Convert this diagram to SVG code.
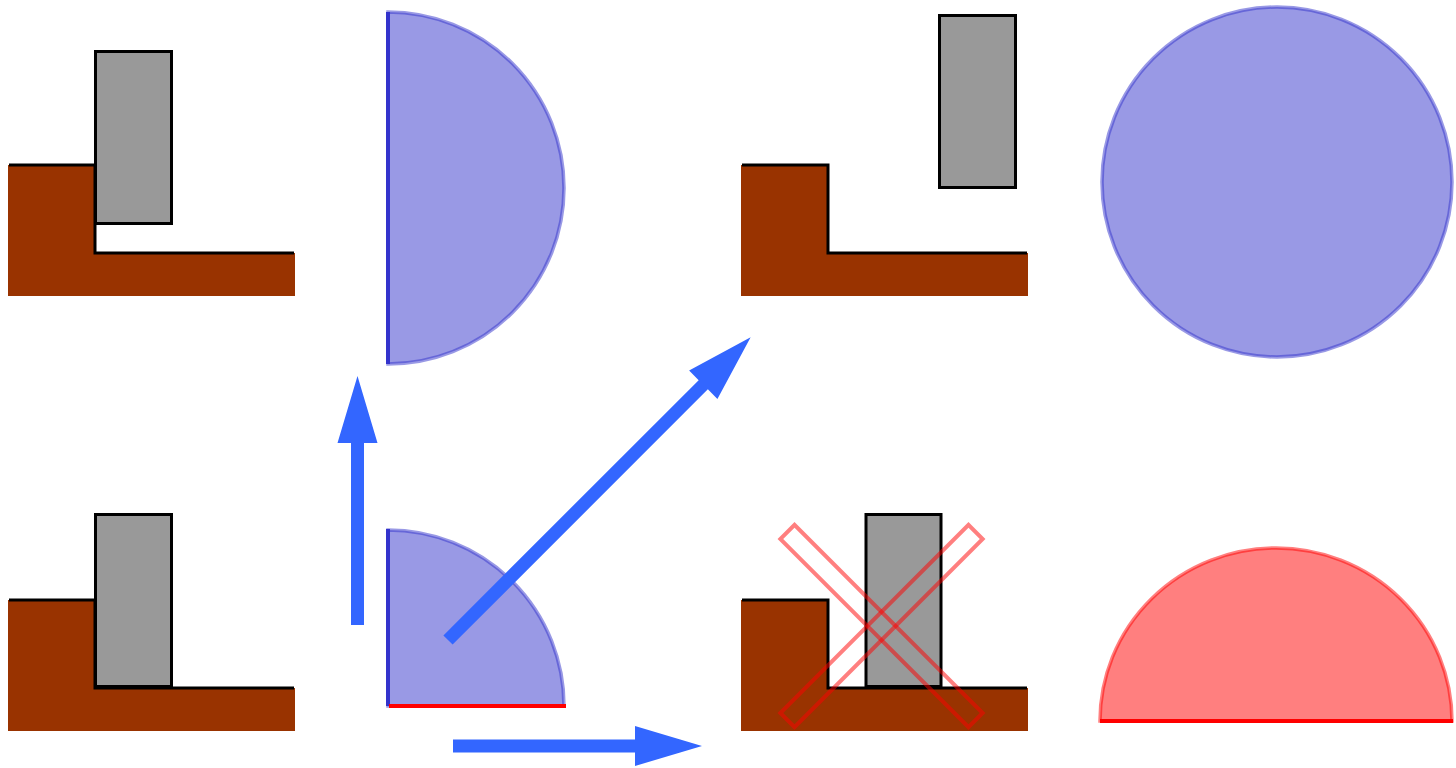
<svg xmlns="http://www.w3.org/2000/svg" width="1456" height="768" viewBox="0 0 1456 768">
<style>
.ground{fill:#993300;stroke:none}
.edge{fill:none;stroke:#000;stroke-width:3;stroke-linejoin:miter}
.block{fill:#999999;stroke:#000;stroke-width:3}
.blue{fill:#3333cc;fill-opacity:0.5;stroke:#3333cc;stroke-opacity:0.5;stroke-width:3.5}
.red{fill:#ff0000;fill-opacity:0.5;stroke:#ff0000;stroke-opacity:0.5;stroke-width:3.5}
.arrow{fill:#3366ff;stroke:none}
.cross{fill:none;stroke:#ff0000;stroke-opacity:0.5;stroke-width:4}
</style>
<defs>
<path id="lshape" d="M8,165 H95 V253 H295 V296 H8 Z"/>
<path id="ledge" d="M9,165 H95 V253 H294"/>
</defs>
<g id="scene-top-left">
<use href="#lshape" class="ground"/>
<use href="#ledge" class="edge"/>
<rect class="block" x="95.5" y="51.5" width="76" height="172"/>
</g>
<g id="half-disc-top">
<path class="blue" d="M388,12 A176,176 0 0 1 388,364 Z"/>
<line x1="388" y1="12" x2="388" y2="364" stroke="#3333cc" stroke-width="4"/>
</g>
<g id="scene-top-right">
<use href="#lshape" class="ground" transform="translate(733,0)"/>
<use href="#ledge" class="edge" transform="translate(733,0)"/>
<rect class="block" x="939.5" y="15.5" width="76" height="172"/>
</g>
<g id="disc">
<circle class="blue" cx="1277" cy="182" r="175"/>
</g>
<g id="scene-bottom-left">
<use href="#lshape" class="ground" transform="translate(0,435)"/>
<use href="#ledge" class="edge" transform="translate(0,435)"/>
<rect class="block" x="95.5" y="514.5" width="76" height="172"/>
</g>
<g id="quarter-disc">
<path class="blue" d="M388,530 A176,176 0 0 1 564,706 H388 Z"/>
<line x1="388" y1="529" x2="388" y2="706" stroke="#3333cc" stroke-width="4"/>
<line x1="389" y1="706" x2="566" y2="706" stroke="#ff0000" stroke-width="4"/>
</g>
<g id="scene-bottom-right">
<use href="#lshape" class="ground" transform="translate(733,435)"/>
<use href="#ledge" class="edge" transform="translate(733,435)"/>
<rect class="block" x="866" y="514.5" width="75" height="172"/>
<rect class="cross" x="748.5" y="616" width="266" height="20" transform="rotate(45 881.5 626)"/>
<rect class="cross" x="748.5" y="616" width="266" height="20" transform="rotate(-45 881.5 626)"/>
</g>
<g id="half-disc-bottom">
<path class="red" d="M1100,721 A176,173 0 0 1 1452,721 Z"/>
<line x1="1100" y1="721" x2="1453" y2="721" stroke="#ff0000" stroke-width="4"/>
</g>
<g id="connectors">
<path class="arrow" d="M0,-6.5 H182 V-20 L249,0 L182,20 V6.5 H0 Z" transform="translate(357.5,625) rotate(-90)"/>
<path class="arrow" d="M0,-6.5 H182 V-20 L249,0 L182,20 V6.5 H0 Z" transform="translate(453,746)"/>
<path class="arrow" d="M0,-6.5 H361 V-20 L428,0 L361,20 V6.5 H0 Z" transform="translate(448,640) rotate(-45)"/>
</g>
</svg>
